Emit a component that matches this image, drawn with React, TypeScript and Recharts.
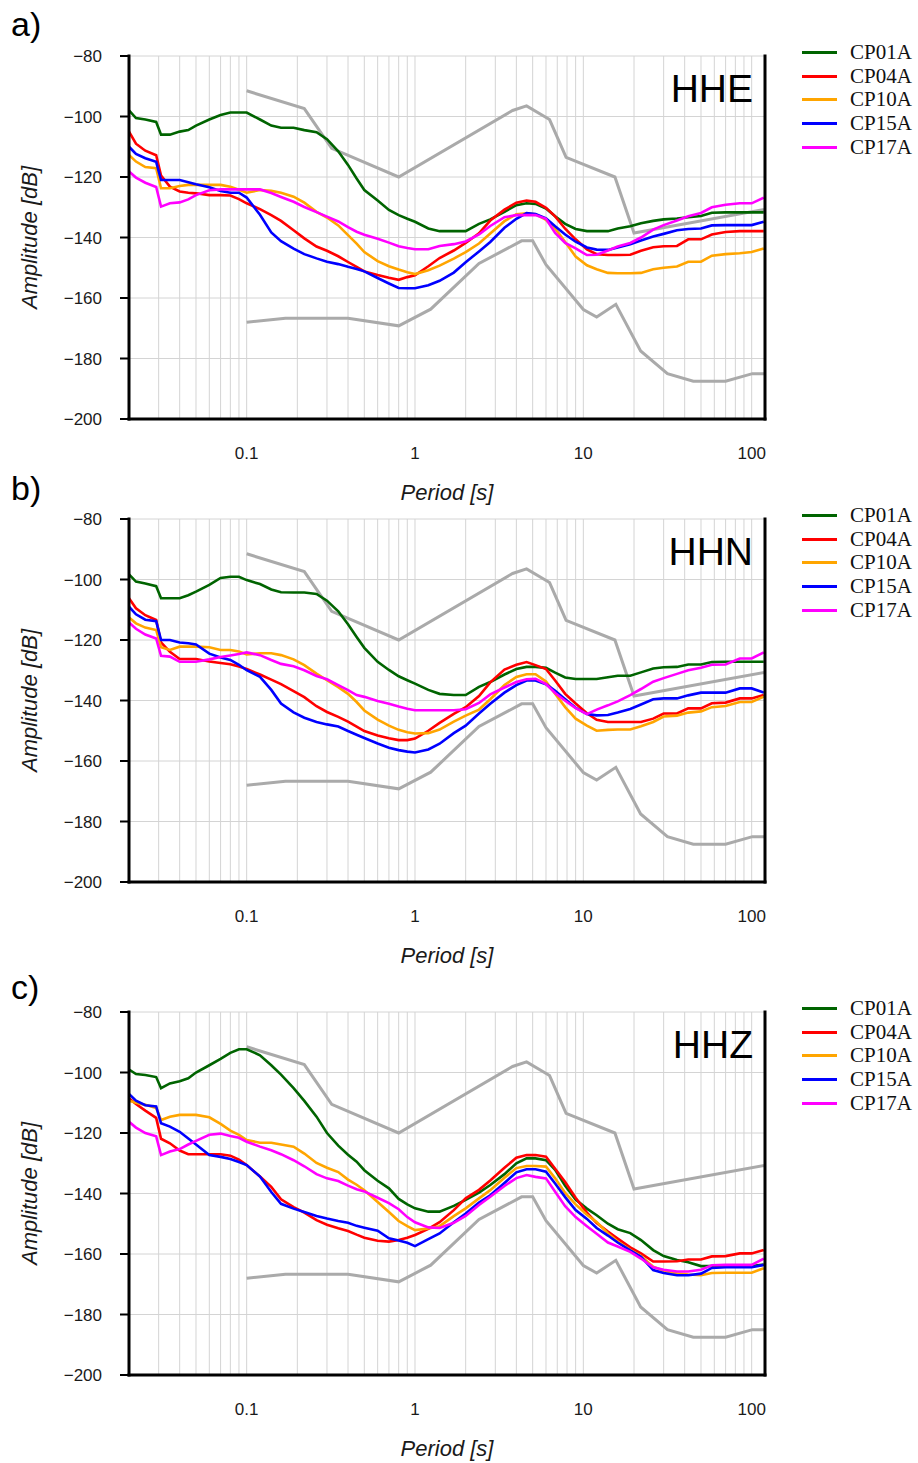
import { LineChart, Line, XAxis, YAxis, CartesianGrid, Legend } from 'recharts'

// periods [s] at which the station PSD curves were read
const periods = [
  0.02, 0.022, 0.025, 0.029, 0.031, 0.035, 0.04, 0.045, 0.05, 0.06,
  0.07, 0.08, 0.09, 0.1, 0.12, 0.14, 0.16, 0.19, 0.22, 0.26,
  0.3, 0.35, 0.4, 0.45, 0.5, 0.6, 0.7, 0.8, 0.9, 1.0,
  1.2, 1.4, 1.7, 2.0, 2.4, 2.8, 3.4, 4.0, 4.6, 5.2,
  6.0, 6.8, 7.8, 9.0, 10.5, 12, 14, 16, 19, 22,
  26, 30, 36, 42, 50, 58, 70, 85, 100, 118,
]

// Peterson noise models
const nhnmPeriods = [0.1, 0.22, 0.32, 0.8, 3.8, 4.6, 6.3, 7.9, 15.4, 20, 120]
const nhnmDb = [-91.5, -97.4, -110.5, -120.0, -98.0, -96.5, -101.0, -113.5, -120.0, -138.5, -130.7]
const nlnmPeriods = [0.1, 0.17, 0.4, 0.8, 1.24, 2.4, 4.3, 5.0, 6.0, 10, 12, 15.6, 21.9, 31.6, 45, 70, 101, 120]
const nlnmDb = [-168.0, -166.7, -166.7, -169.2, -163.7, -148.6, -141.1, -141.1, -149.0, -163.8, -166.3, -162.1, -177.5, -185.0, -187.5, -187.5, -185.0, -185.0]

const stations = ['CP01A', 'CP04A', 'CP10A', 'CP15A', 'CP17A']
const stationColors = ['#006400', '#ff0000', '#ffa500', '#0000ff', '#ff00ff']

// HHE
const hheCP01A = [
  -98, -100.5, -101, -101.8, -106, -106, -105, -104.5, -103, -101,
  -99.5, -98.7, -98.7, -98.7, -101, -103, -103.7, -103.7, -104.5, -105.2,
  -107.5, -111.5, -116, -120.5, -124.3, -127.8, -130.9, -132.6, -133.8, -134.8,
  -137, -137.9, -137.9, -137.9, -135.5, -134, -131.5, -129.3, -128.7, -128.9,
  -130.4, -133, -135.5, -137.2, -137.9, -137.9, -137.9, -137, -136.3, -135.3,
  -134.5, -134, -133.7, -133.3, -132.9, -131.8, -131.7, -131.7, -131.7, -131.7,
]
const hheCP04A = [
  -105, -109, -111.3, -112.8, -119.5, -123.2, -124.8, -125.2, -125.4, -126,
  -126, -126.1, -127.3, -128.7, -130.6, -132.6, -134.5, -137.6, -140.3, -143,
  -144.4, -146.2, -148.1, -149.7, -151.2, -152.4, -153.3, -154, -153.1, -152.5,
  -149.5, -146.8, -144.3, -141.8, -138.6, -134.4, -130.8, -128.5, -127.8, -128.2,
  -130.2, -133, -137.1, -140.6, -143.9, -145.5, -145.8, -145.8, -145.7, -144.4,
  -143.2, -142.9, -142.8, -140.6, -140.6, -139, -138.2, -137.9, -137.9, -137.9,
]
const hheCP10A = [
  -112.7, -114.9, -116.7, -117.1, -123.7, -123.7, -123, -122.6, -122.6, -122.6,
  -122.6, -123.2, -124.2, -125.2, -124.3, -124.6, -125.2, -126.5, -128.5, -131.5,
  -133.4, -136, -139.2, -142, -144.8, -147.8, -149.5, -150.6, -151.5, -152.1,
  -150.8, -149.3, -147, -144.8, -142, -138.7, -134.6, -132.3, -132, -132.3,
  -134.2, -137, -141.5, -146.3, -149.2, -150.5, -151.7, -151.8, -151.8, -151.7,
  -150.5, -150, -149.6, -148, -148, -146, -145.5, -145.2, -144.8, -143.6,
]
const hheCP15A = [
  -110, -112.4, -113.8, -115, -121, -121, -121, -121.7, -122.4, -123.4,
  -124.6, -125.2, -125.2, -126.8, -132.5, -138.3, -141.2, -143.7, -145.5, -146.9,
  -148, -148.8, -149.7, -150.4, -151.2, -153.4, -155.2, -156.7, -156.8, -156.8,
  -155.8, -154.3, -151.6, -148.2, -144.6, -141.5, -136.8, -133.8, -131.9, -132.2,
  -133.7, -136.3, -139, -141.4, -143.3, -144, -144.1, -143.3, -142.2, -141,
  -139.7, -138.8, -137.6, -137.2, -137, -136, -135.9, -135.9, -135.9, -134.8,
]
const hheCP17A = [
  -118.2, -120.2, -121.9, -123.3, -129.8, -128.7, -128.4, -127.4, -126, -124.4,
  -124.1, -124.1, -124.1, -124.1, -124.1, -125.3, -126.6, -128.2, -129.9, -131.6,
  -133.1, -134.7, -136.6, -138.1, -139.1, -140.4, -141.7, -142.9, -143.5, -143.9,
  -143.9, -142.8, -142.2, -141.3, -139, -136.2, -133.3, -132.6, -132.6, -132.6,
  -133.8, -138.5, -141.8, -143.6, -145.8, -145.7, -144.3, -143, -141.8, -140,
  -137.4, -135.9, -134.4, -133, -131.9, -130, -129.2, -128.7, -128.7, -126.8,
]

// HHN
const hhnCP01A = [
  -98.3, -100.7, -101.3, -102.2, -106.2, -106.2, -106.2, -105.2, -104, -101.8,
  -99.5, -99.1, -99.1, -100.2, -101.5, -103.3, -104.2, -104.3, -104.3, -104.8,
  -107, -110.5, -114.8, -119, -122.6, -127.2, -129.9, -132, -133.3, -134.4,
  -136.5, -137.8, -138.2, -138.2, -135.5, -133.9, -131.4, -129.6, -128.9, -128.9,
  -129.2, -130.8, -132.4, -132.9, -132.9, -132.9, -132.3, -131.8, -131.8, -130.7,
  -129.4, -129, -128.9, -128.1, -128.1, -127.3, -127.2, -127.2, -127.2, -127.2,
]
const hhnCP04A = [
  -106.2, -109.5, -111.8, -113.4, -120.8, -123.9, -126.3, -126.3, -126.3, -127.1,
  -127.6, -128, -128.8, -129.6, -131.4, -133.1, -134.6, -136.9, -138.9, -141.9,
  -143.8, -145.4, -147, -148.6, -150.1, -151.6, -152.5, -153.1, -153.1, -152.6,
  -150, -147.4, -144.4, -142.2, -138.5, -134, -129.8, -128.2, -127.3, -128.3,
  -129.6, -133.4, -137.8, -141, -144.2, -146.4, -147.1, -147.1, -147.1, -147.1,
  -146, -144.3, -144.3, -142.6, -142.6, -140.9, -140.7, -139.3, -139.3, -138.2,
]
const hhnCP10A = [
  -112.6, -114.5, -115.9, -116.7, -122.4, -123.3, -122.2, -122.2, -122.2, -122.4,
  -123.3, -123.3, -123.8, -124.8, -124.4, -124.4, -125, -126.4, -128.3, -131.1,
  -133.3, -135.6, -137.8, -140.5, -143.3, -146.3, -148.3, -149.7, -150.5, -150.9,
  -150.8, -149.6, -147, -145, -143, -139.6, -134.9, -132.2, -131.3, -131.3,
  -133.7, -137.8, -142.2, -146, -148.3, -150, -149.7, -149.6, -149.6, -148.5,
  -147.1, -145.3, -145, -144, -143.6, -142.2, -141.8, -140.5, -140.5, -138.7,
]
const hhnCP15A = [
  -109, -111.5, -113.3, -113.8, -120, -120, -120.8, -121.1, -121.5, -124.5,
  -125.8, -126.6, -128.2, -130, -132.2, -136.5, -141, -143.9, -145.7, -147.1,
  -147.9, -148.6, -150.1, -151.3, -152.4, -154.2, -155.6, -156.4, -156.9, -157.2,
  -156.2, -154.3, -150.8, -148.3, -144.3, -141.1, -137.4, -134.9, -133.4, -133.4,
  -134.6, -136.8, -139.6, -142.4, -144.5, -144.9, -144.8, -144, -142.8, -141.3,
  -139.6, -139.3, -139.3, -138.3, -137.4, -137.4, -137.4, -136, -136, -137.4,
]
const hhnCP17A = [
  -114.2, -116.3, -118.2, -119.5, -125.2, -125.5, -127.2, -127.2, -127.2, -126.4,
  -125.6, -125.1, -124.6, -124.1, -125, -126.6, -127.9, -128.7, -130, -131.9,
  -133, -134.9, -136.6, -138.2, -138.8, -140.2, -141.1, -142, -142.7, -143.2,
  -143.2, -143.2, -143.2, -142.9, -140.8, -138, -135.7, -133.9, -133, -132.8,
  -134.6, -137.5, -140.1, -142.5, -144.5, -143, -141.6, -140.3, -138.2, -136.2,
  -133.8, -132.6, -131.2, -130, -129.2, -128.2, -128.1, -126.1, -126.1, -124.1,
]

// HHZ
const hhzCP01A = [
  -99, -100.5, -100.8, -101.5, -105.2, -103.6, -102.9, -101.9, -100, -97.6,
  -95.5, -93.5, -92.3, -92.3, -94.3, -97.6, -100.7, -105.2, -109.4, -114.6,
  -120, -124.2, -127.2, -129.5, -132.3, -135.8, -138.3, -141.8, -143.6, -144.9,
  -146, -146, -144.1, -142.1, -139.7, -137.2, -133.6, -130, -128.4, -128.4,
  -129, -132.2, -137.4, -142, -145, -147.2, -150, -151.8, -153.1, -155.4,
  -158.7, -160.7, -162, -162.7, -164, -164, -164, -164, -164, -163.5,
]
const hhzCP04A = [
  -108.5, -110.4, -112.6, -115, -121.9, -123.4, -125.8, -127, -127, -127,
  -127, -127.5, -128.8, -130.6, -134.4, -137.8, -141.9, -144.5, -146.3, -148.8,
  -150.3, -151.5, -152.4, -153.6, -154.6, -155.6, -155.9, -155.4, -154.6, -153.7,
  -151.7, -149.5, -145.5, -141.6, -138.8, -135.7, -131.5, -128.2, -127.3, -127.3,
  -127.8, -131.8, -136.2, -141.4, -146.3, -149.8, -152.6, -154.9, -157.8, -159.8,
  -162.5, -162.5, -162.4, -161.8, -161.8, -160.8, -160.7, -159.8, -159.8, -158.7,
]
const hhzCP10A = [
  -109.3, -110, -110.7, -111.7, -115.7, -114.6, -114, -114, -114, -114.8,
  -117, -119.2, -120.6, -122.3, -123.2, -123.2, -123.8, -124.5, -126.8, -129.9,
  -131.5, -132.9, -135.4, -137.1, -138.9, -142.8, -146.1, -149.1, -150.8, -152.1,
  -151.6, -150.8, -147.5, -144.9, -141.6, -138.9, -134.8, -131.6, -130.9, -130.9,
  -131.1, -135, -139.8, -143.6, -147, -149.4, -153.2, -155.9, -158.6, -160.7,
  -164.2, -165.5, -166.4, -166.8, -167, -166.3, -166.2, -166.2, -166.2, -164.7,
]
const hhzCP15A = [
  -107.1, -109.3, -110.8, -111.2, -116.8, -117.9, -119.6, -121.8, -123.8, -127.3,
  -127.9, -128.6, -129.6, -130.6, -134.4, -139.5, -143.4, -145, -146.1, -147.4,
  -148.3, -149.1, -149.7, -150.7, -151.3, -152.3, -154.8, -155.5, -156.3, -157.4,
  -155.1, -153.2, -149.5, -146.6, -143, -140.6, -136.5, -133, -132, -132,
  -132.8, -136.7, -141.2, -145.5, -148.4, -151.4, -153.9, -156.2, -158.8, -160.9,
  -165.3, -166.3, -167, -167, -166.5, -164.6, -164.4, -164.4, -164.4, -163.6,
]
const hhzCP17A = [
  -116.3, -118.2, -120, -121.1, -127.3, -126.1, -125.3, -123.8, -122.6, -120.6,
  -120.2, -121, -121.6, -122.9, -124.5, -125.7, -127, -129, -131, -133.6,
  -135, -135.9, -137.4, -138.6, -139.3, -141.4, -143.2, -145.2, -147.8, -149.5,
  -151.2, -151.4, -149.7, -147.4, -143.8, -141.1, -137.5, -134.9, -133.9, -134.5,
  -135, -139.4, -144.2, -147.8, -150.8, -153.3, -156.2, -157.5, -159.3, -161.5,
  -164.4, -165.2, -165.8, -165.8, -165.2, -163.7, -163.6, -163.6, -163.6, -161.5,
]

const xGridTicks = [
  0.02, 0.03, 0.04, 0.05, 0.06, 0.07, 0.08, 0.09,
  0.1, 0.2, 0.3, 0.4, 0.5, 0.6, 0.7, 0.8, 0.9,
  1, 2, 3, 4, 5, 6, 7, 8, 9,
  10, 20, 30, 40, 50, 60, 70, 80, 90, 100,
]
const xLabelTicks = [0.1, 1, 10, 100]
const yTicks = [-200, -180, -160, -140, -120, -100, -80]

const toPoints = (ps: number[], vs: number[]) => ps.map((p, i) => ({ p, v: vs[i] }))

const nhnm = toPoints(nhnmPeriods, nhnmDb)
const nlnm = toPoints(nlnmPeriods, nlnmDb)

const frame = { stroke: '#000', strokeWidth: 3, strokeLinecap: 'square' as const }
const tickStroke = { stroke: '#000', strokeWidth: 2 }
const xDomain = [0.02, 120]
const yDomain = [-200, -80]

const renderLegend = () => (
  <div style={{ fontFamily: '"Liberation Serif", "Times New Roman", serif', fontSize: 21, color: '#111' }}>
    {stations.map((s, i) => (
      <div key={s} style={{ display: 'flex', alignItems: 'center', height: 23.6, whiteSpace: 'nowrap' }}>
        <span style={{ display: 'inline-block', width: 35, height: 3, background: stationColors[i], marginRight: 13 }} />
        <span>{s}</span>
      </div>
    ))}
  </div>
)

function Panel({ top, letter, channel, series, letterY }: { top: number; letter: string; channel: string; series: number[][]; letterY: number }) {
  return (
    <div style={{ position: 'absolute', left: 0, top, width: 918, height: 510 }}>
      <LineChart width={918} height={510} margin={{ top: 56, right: 143, bottom: 51, left: 69 }}>
        <CartesianGrid stroke="#d4d4d4" strokeWidth={1} />
        <XAxis
          dataKey="p"
          type="number"
          scale="log"
          domain={xDomain}
          allowDataOverflow
          ticks={xGridTicks}
          interval={0}
          tickFormatter={(v: number) => (xLabelTicks.includes(v) ? String(v) : '')}
          tickLine={false}
          tickSize={0}
          tickMargin={28}
          height={40}
          axisLine={frame}
          tick={{ fill: '#1a1a1a', fontSize: 17 }}
          label={{
            content: (props: any) => (
              <text
                x={props.viewBox.x + props.viewBox.width / 2}
                y={props.viewBox.y + 81}
                textAnchor="middle"
                fontSize={22}
                fontStyle="italic"
                fill="#1a1a1a"
              >
                Period [s]
              </text>
            ),
          }}
        />
        <XAxis
          xAxisId="top"
          orientation="top"
          dataKey="p"
          type="number"
          scale="log"
          domain={xDomain}
          allowDataOverflow
          ticks={xLabelTicks}
          interval={0}
          tick={false}
          tickSize={9}
          tickLine={tickStroke}
          height={0}
          axisLine={frame}
        />
        <YAxis
          type="number"
          domain={yDomain}
          ticks={yTicks}
          interval={0}
          width={60}
          tickSize={9}
          tickMargin={18}
          tickLine={tickStroke}
          axisLine={frame}
          tick={{ fill: '#1a1a1a', fontSize: 17 }}
          tickFormatter={(v: number) => String(v).replace('-', '\u2212')}
          label={{
            content: (props: any) => {
              const cx = props.viewBox.x + props.viewBox.width - 100
              const cy = props.viewBox.y + props.viewBox.height / 2
              return (
                <text
                  x={cx}
                  y={cy}
                  transform={`rotate(-90 ${cx} ${cy})`}
                  textAnchor="middle"
                  dominantBaseline="central"
                  fontSize={22}
                  fontStyle="italic"
                  fill="#1a1a1a"
                >
                  Amplitude [dB]
                </text>
              )
            },
          }}
        />
        <YAxis
          yAxisId="right"
          orientation="right"
          type="number"
          domain={yDomain}
          ticks={yTicks}
          interval={0}
          width={10}
          tick={false}
          tickSize={9}
          tickLine={tickStroke}
          axisLine={frame}
        />
        <Line data={nhnm} dataKey="v" type="linear" stroke="#aaaaaa" strokeWidth={3} dot={false} legendType="none" isAnimationActive={false} />
        <Line data={nlnm} dataKey="v" type="linear" stroke="#aaaaaa" strokeWidth={3} dot={false} legendType="none" isAnimationActive={false} />
        {series.map((vals, i) => (
          <Line
            key={stations[i]}
            name={stations[i]}
            data={toPoints(periods, vals)}
            dataKey="v"
            type="linear"
            stroke={stationColors[i]}
            strokeWidth={2.6}
            dot={false}
            isAnimationActive={false}
          />
        ))}
        <Legend
          layout="vertical"
          align="center"
          verticalAlign="middle"
          content={renderLegend}
          wrapperStyle={{ left: 802, top: 41, width: 116 }}
        />
      </LineChart>
      <svg width={918} height={120} style={{ position: 'absolute', left: 0, top: 0, pointerEvents: 'none' }}>
        <text x={11} y={letterY} fontSize={34} fill="#000">{letter}</text>
        <text x={753} y={102} fontSize={39} textAnchor="end" fill="#000">{channel}</text>
      </svg>
    </div>
  )
}

export default function App() {
  return (
    <div
      style={{
        position: 'absolute',
        left: 0,
        top: 0,
        width: 918,
        height: 1463,
        background: '#fff',
        overflow: 'hidden',
        fontFamily: '"Liberation Sans", Arial, Helvetica, sans-serif',
      }}
    >
      <Panel top={0} letter="a)" channel="HHE" letterY={36} series={[hheCP01A, hheCP04A, hheCP10A, hheCP15A, hheCP17A]} />
      <Panel top={463} letter="b)" channel="HHN" letterY={37} series={[hhnCP01A, hhnCP04A, hhnCP10A, hhnCP15A, hhnCP17A]} />
      <Panel top={956} letter="c)" channel="HHZ" letterY={43} series={[hhzCP01A, hhzCP04A, hhzCP10A, hhzCP15A, hhzCP17A]} />
    </div>
  )
}
